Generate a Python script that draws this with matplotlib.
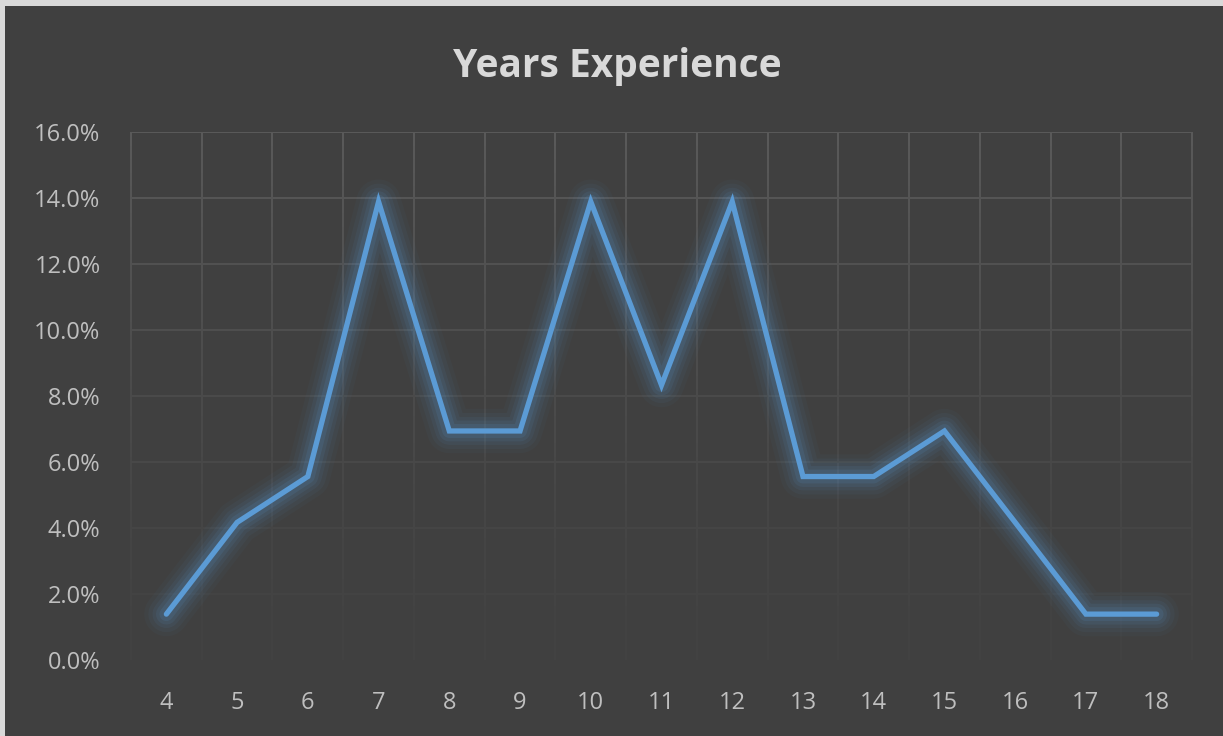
import matplotlib
matplotlib.use('Agg')
import matplotlib.pyplot as plt
from matplotlib.patches import Rectangle
from matplotlib.ticker import FuncFormatter
import numpy as np

years = [4, 5, 6, 7, 8, 9, 10, 11, 12, 13, 14, 15, 16, 17, 18]
share = [0.0139, 0.0417, 0.0556, 0.1389, 0.0694, 0.0694, 0.1389, 0.0833,
         0.1389, 0.0556, 0.0556, 0.0694, 0.0417, 0.0139, 0.0139]
yticks = [0.0, 0.02, 0.04, 0.06, 0.08, 0.10, 0.12, 0.14, 0.16]

bg = '#404040'
line_col = '#5b9bd5'
grid_rgb = np.array([0x5a, 0x5a, 0x5a]) / 255
bg_rgb = np.array([0x40, 0x40, 0x40]) / 255

plt.rcParams['font.family'] = ['Open Sans', 'DejaVu Sans']

fig = plt.figure(figsize=(12.23, 7.36), dpi=100, facecolor=bg)
# light border on left and top edge of the screenshot
fig.patches.append(Rectangle((0, 0), 5 / 1223, 1, transform=fig.transFigure,
                             facecolor='#d9d9d9', edgecolor='none'))
fig.patches.append(Rectangle((0, 1 - 6 / 736), 1, 6 / 736, transform=fig.transFigure,
                             facecolor='#d9d9d9', edgecolor='none'))

ax = fig.add_axes([131 / 1223, 1 - 660 / 736, (1192 - 131) / 1223, (660 - 132) / 736])
ax.set_facecolor(bg)
for s in ax.spines.values():
    s.set_visible(False)

x = np.arange(len(years))
ax.set_xlim(-0.5, len(years) - 0.5)
ax.set_ylim(yticks[0], yticks[-1])


def fade(y):
    # grid gets fainter toward the bottom
    t = (y - yticks[0]) / (yticks[-1] - yticks[0])
    t = 0.1 + 0.9 * t ** 1.4
    return tuple(bg_rgb + (grid_rgb - bg_rgb) * t)


# horizontal grid
for yv in yticks[1:]:
    ax.axhline(yv, color=fade(yv), lw=1.4, zorder=1)
# vertical grid at category boundaries, fading in steps
ys = np.linspace(yticks[0], yticks[-1], 40)
for xb in np.arange(-0.5, len(years), 1.0):
    for y0, y1 in zip(ys[:-1], ys[1:]):
        ax.plot([xb, xb], [y0, y1], color=fade((y0 + y1) / 2), lw=1.4,
                solid_capstyle='butt', zorder=1, clip_on=False)

# glow
for w, a in [(32, 0.035), (26, 0.05), (20, 0.07), (15, 0.09), (10, 0.12)]:
    ax.plot(x, share, color=line_col, lw=w, alpha=a, solid_joinstyle='round',
            solid_capstyle='round', zorder=2)
ax.plot(x, share, color=line_col, lw=3.8, solid_joinstyle='miter',
        solid_capstyle='round', zorder=3)

ax.set_xticks(x)
ax.set_xticklabels([str(v) for v in years])
ax.set_yticks(yticks)
ax.yaxis.set_major_formatter(FuncFormatter(lambda v, p: f'{v * 100:.1f}%'))
ax.tick_params(axis='both', length=0, colors='#bfbfbf', labelsize=17)
ax.tick_params(axis='x', pad=22)
ax.tick_params(axis='y', pad=22)

fig.text(617 / 1223, 1 - 66 / 736, 'Years Experience', ha='center', va='center',
         fontsize=28, fontweight='bold', color='#d9d9d9')

fig.savefig('out.png', dpi=100, facecolor=bg)
